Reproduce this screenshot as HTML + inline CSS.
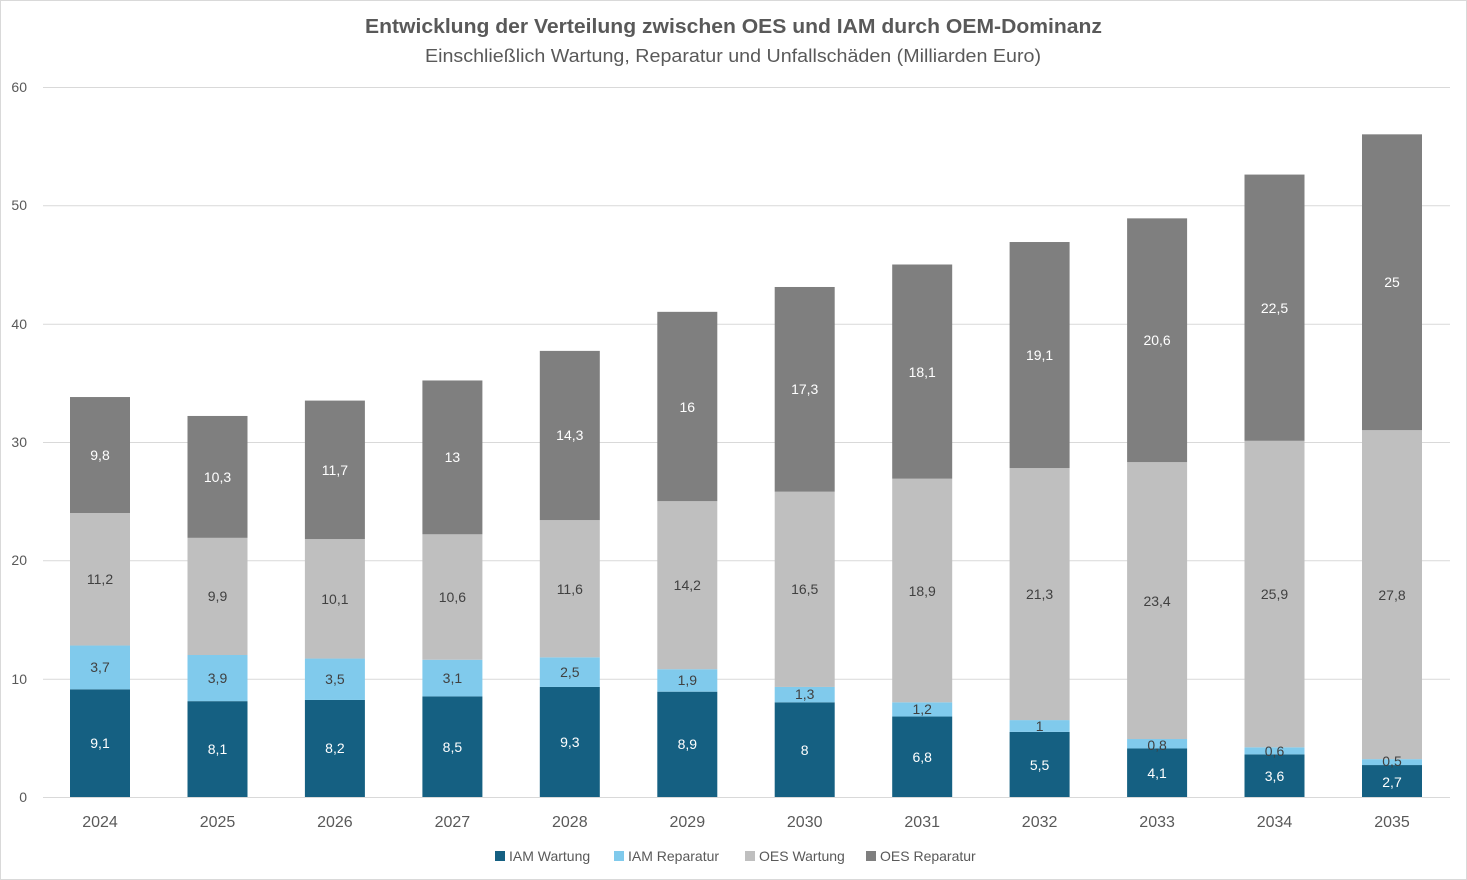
<!DOCTYPE html>
<html><head><meta charset="utf-8"><style>
html,body{margin:0;padding:0;background:#fff;}
svg{display:block;font-family:"Liberation Sans",sans-serif;}
</style></head><body>
<svg width="1467" height="880" viewBox="0 0 1467 880" xmlns="http://www.w3.org/2000/svg">
<rect x="0.5" y="0.5" width="1466" height="879" fill="#fff" stroke="#d9d9d9"/>
<text x="365" y="33" textLength="737" lengthAdjust="spacingAndGlyphs" font-size="20" font-weight="bold" fill="#595959">Entwicklung der Verteilung zwischen OES und IAM durch OEM-Dominanz</text>
<text x="425" y="62" textLength="616" lengthAdjust="spacingAndGlyphs" font-size="18" fill="#595959">Einschließlich Wartung, Reparatur und Unfallschäden (Milliarden Euro)</text>
<g stroke="#d9d9d9" stroke-width="1">
<line x1="43" x2="1450" y1="87.5" y2="87.5"/><line x1="43" x2="1450" y1="205.8" y2="205.8"/>
<line x1="43" x2="1450" y1="324.2" y2="324.2"/><line x1="43" x2="1450" y1="442.5" y2="442.5"/>
<line x1="43" x2="1450" y1="560.8" y2="560.8"/><line x1="43" x2="1450" y1="679.2" y2="679.2"/>
<line x1="43" x2="1450" y1="797.5" y2="797.5"/>
</g>
<g font-size="14" fill="#595959" text-anchor="end">
<text x="27" y="92">60</text><text x="27" y="210">50</text><text x="27" y="329">40</text>
<text x="27" y="447">30</text><text x="27" y="565">20</text><text x="27" y="684">10</text><text x="27" y="802">0</text>
</g>
<g transform="translate(0,797) scale(1,-11.8333)">
<g fill="#156082">
<rect x="70" y="0" width="60" height="9.1"/><rect x="187.5" y="0" width="60" height="8.1"/><rect x="304.9" y="0" width="60" height="8.2"/><rect x="422.4" y="0" width="60" height="8.5"/><rect x="539.8" y="0" width="60" height="9.3"/><rect x="657.3" y="0" width="60" height="8.9"/><rect x="774.7" y="0" width="60" height="8"/><rect x="892.2" y="0" width="60" height="6.8"/><rect x="1009.6" y="0" width="60" height="5.5"/><rect x="1127.1" y="0" width="60" height="4.1"/><rect x="1244.5" y="0" width="60" height="3.6"/><rect x="1362" y="0" width="60" height="2.7"/>
</g>
<g fill="#80caec">
<rect x="70" y="9.1" width="60" height="3.7"/><rect x="187.5" y="8.1" width="60" height="3.9"/><rect x="304.9" y="8.2" width="60" height="3.5"/><rect x="422.4" y="8.5" width="60" height="3.1"/><rect x="539.8" y="9.3" width="60" height="2.5"/><rect x="657.3" y="8.9" width="60" height="1.9"/><rect x="774.7" y="8" width="60" height="1.3"/><rect x="892.2" y="6.8" width="60" height="1.2"/><rect x="1009.6" y="5.5" width="60" height="1"/><rect x="1127.1" y="4.1" width="60" height="0.8"/><rect x="1244.5" y="3.6" width="60" height="0.6"/><rect x="1362" y="2.7" width="60" height="0.5"/>
</g>
<g fill="#bfbfbf">
<rect x="70" y="12.8" width="60" height="11.2"/><rect x="187.5" y="12" width="60" height="9.9"/><rect x="304.9" y="11.7" width="60" height="10.1"/><rect x="422.4" y="11.6" width="60" height="10.6"/><rect x="539.8" y="11.8" width="60" height="11.6"/><rect x="657.3" y="10.8" width="60" height="14.2"/><rect x="774.7" y="9.3" width="60" height="16.5"/><rect x="892.2" y="8" width="60" height="18.9"/><rect x="1009.6" y="6.5" width="60" height="21.3"/><rect x="1127.1" y="4.9" width="60" height="23.4"/><rect x="1244.5" y="4.2" width="60" height="25.9"/><rect x="1362" y="3.2" width="60" height="27.8"/>
</g>
<g fill="#7f7f7f">
<rect x="70" y="24" width="60" height="9.8"/><rect x="187.5" y="21.9" width="60" height="10.3"/><rect x="304.9" y="21.8" width="60" height="11.7"/><rect x="422.4" y="22.2" width="60" height="13"/><rect x="539.8" y="23.4" width="60" height="14.3"/><rect x="657.3" y="25" width="60" height="16"/><rect x="774.7" y="25.8" width="60" height="17.3"/><rect x="892.2" y="26.9" width="60" height="18.1"/><rect x="1009.6" y="27.8" width="60" height="19.1"/><rect x="1127.1" y="28.3" width="60" height="20.6"/><rect x="1244.5" y="30.1" width="60" height="22.5"/><rect x="1362" y="31" width="60" height="25"/>
</g>
</g>
<g font-size="14" text-anchor="middle" fill="#fff">
<text x="100" y="748">9,1</text><text x="217.5" y="754">8,1</text><text x="334.9" y="753">8,2</text><text x="452.4" y="752">8,5</text><text x="569.8" y="747">9,3</text><text x="687.3" y="749">8,9</text><text x="804.7" y="755">8</text><text x="922.2" y="762">6,8</text><text x="1039.6" y="770">5,5</text><text x="1157.1" y="778">4,1</text><text x="1274.5" y="781">3,6</text><text x="1392" y="787">2,7</text>
<text x="100" y="460">9,8</text><text x="217.5" y="482">10,3</text><text x="334.9" y="475">11,7</text><text x="452.4" y="462">13</text><text x="569.8" y="440">14,3</text><text x="687.3" y="412">16</text><text x="804.7" y="394">17,3</text><text x="922.2" y="377">18,1</text><text x="1039.6" y="360">19,1</text><text x="1157.1" y="345">20,6</text><text x="1274.5" y="313">22,5</text><text x="1392" y="287">25</text>
</g>
<g font-size="14" text-anchor="middle" fill="#404040">
<text x="100" y="672">3,7</text><text x="217.5" y="683">3,9</text><text x="334.9" y="684">3,5</text><text x="452.4" y="683">3,1</text><text x="569.8" y="677">2,5</text><text x="687.3" y="685">1,9</text><text x="804.7" y="699">1,3</text><text x="922.2" y="714">1,2</text><text x="1039.6" y="731">1</text><text x="1157.1" y="750">0,8</text><text x="1274.5" y="756">0,6</text><text x="1392" y="766">0,5</text>
<text x="100" y="584">11,2</text><text x="217.5" y="601">9,9</text><text x="334.9" y="604">10,1</text><text x="452.4" y="602">10,6</text><text x="569.8" y="594">11,6</text><text x="687.3" y="590">14,2</text><text x="804.7" y="594">16,5</text><text x="922.2" y="596">18,9</text><text x="1039.6" y="599">21,3</text><text x="1157.1" y="606">23,4</text><text x="1274.5" y="599">25,9</text><text x="1392" y="600">27,8</text>
</g>
<g font-size="16" text-anchor="middle" fill="#595959">
<text x="100" y="827">2024</text><text x="217.5" y="827">2025</text><text x="334.9" y="827">2026</text><text x="452.4" y="827">2027</text><text x="569.8" y="827">2028</text><text x="687.3" y="827">2029</text><text x="804.7" y="827">2030</text><text x="922.2" y="827">2031</text><text x="1039.6" y="827">2032</text><text x="1157.1" y="827">2033</text><text x="1274.5" y="827">2034</text><text x="1392" y="827">2035</text>
</g>
<g font-size="14" fill="#595959">
<rect x="495" y="851" width="10" height="10" fill="#156082"/><text x="509" y="861">IAM Wartung</text>
<rect x="614" y="851" width="10" height="10" fill="#80caec"/><text x="628" y="861">IAM Reparatur</text>
<rect x="745" y="851" width="10" height="10" fill="#bfbfbf"/><text x="759" y="861">OES Wartung</text>
<rect x="866" y="851" width="10" height="10" fill="#7f7f7f"/><text x="880" y="861">OES Reparatur</text>
</g>
</svg>
</body></html>
